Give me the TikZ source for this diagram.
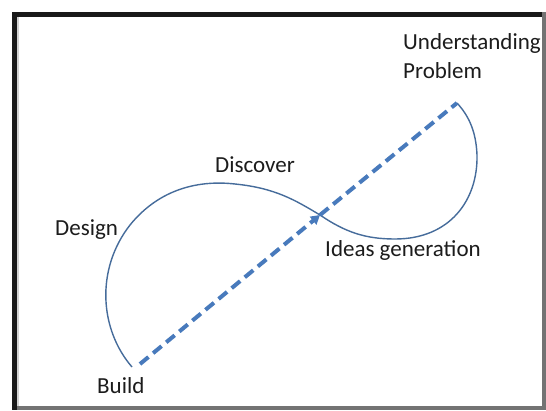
\documentclass[tikz,border=0pt]{standalone}
\usepackage{fontspec}
\setmainfont{Carlito}
\usetikzlibrary{arrows.meta}
\definecolor{loopblue}{RGB}{70,108,155}
\definecolor{routeblue}{RGB}{72,122,188}
\definecolor{ink}{RGB}{28,28,28}
\begin{document}
\begin{tikzpicture}[x=1pt,y=-1pt,
  lbl/.style={anchor=base west, inner sep=0pt, text=ink, font=\fontsize{23}{27}\selectfont},
  loopline/.style={draw=loopblue, line width=1.4pt, line join=round},
  route/.style={draw=routeblue, line width=4pt, dash pattern=on 11pt off 6pt}]
\useasboundingbox (0,0) rectangle (546,410);
\fill[white] (0,0) rectangle (546,410);

% stage labels
\node[lbl] (und)   at (403,49)  {Understanding};
\node[lbl] (prob)  at (403,78)  {Problem};
\node[lbl] (disc)  at (215,172) {Discover};
\node[lbl] (des)   at (55,235)  {Design};
\node[lbl] (ideas) at (325,256) {Ideas generation};
\node[lbl] (bld)   at (97,393)  {Build};

% ends of the loop and the point where it crosses itself
\coordinate (tail)  at (132,367);
\coordinate (start) at (140,364);
\coordinate (cross) at (320,215);
\coordinate (goal)  at (457,103);

% figure-of-eight loop through the stages
\draw[loopline] (tail)
  .. controls (100,330) and (95,270)  .. (130,225)
  .. controls (160,188) and (200,180) .. (235,184)
  .. controls (275,188) and (295,200) .. (cross)
  .. controls (345,232) and (365,239) .. (395,239)
  .. controls (450,239) and (478,200) .. (477,155)
  .. controls (476,130) and (468,115) .. (goal);

% dashed route from building back to the problem
\draw[route, -{Triangle[length=9pt,width=10pt]}] (start) -- (cross);
\draw[route] (cross) -- (goal);

% frame
\fill[black!90] (12,12) rectangle (546,17);
\fill[black!90] (12,12) rectangle (17,410);
\fill[gray!35] (17,17) rectangle (19,410);
\fill[black!55] (542,12) rectangle (546,410);
\fill[black!55] (17,406) rectangle (546,410);
\end{tikzpicture}
\end{document}
